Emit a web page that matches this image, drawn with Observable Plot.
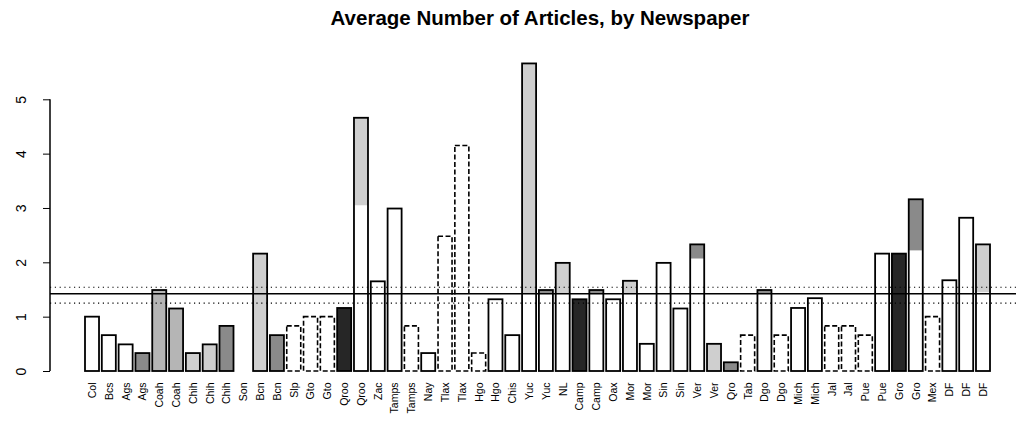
<!DOCTYPE html>
<html>
<head>
<meta charset="utf-8">
<script src="https://cdn.jsdelivr.net/npm/d3@7"></script>
<script src="https://cdn.jsdelivr.net/npm/@observablehq/plot@0.6"></script>
<style>
  body { margin: 0; background: #fff; font-family: "Liberation Sans", Arial, sans-serif; }
  #title {
    height: 34px; box-sizing: border-box; padding-top: 8px; padding-left: 64px;
    text-align: center; font-weight: bold; font-size: 20.5px; line-height: 20px; color: #000;
  }
</style>
</head>
<body>
<div id="title">Average Number of Articles, by Newspaper</div>
<div id="chart"></div>
<script>
// One bar per newspaper, labelled by its state.
const states = [
  "Col", "Bcs", "Ags", "Ags", "Coah", "Coah", "Chih", "Chih", "Chih", "Son",
  "Bcn", "Bcn", "Slp", "Gto", "Gto", "Qroo", "Qroo", "Zac", "Tamps", "Tamps",
  "Nay", "Tlax", "Tlax", "Hgo", "Hgo", "Chis", "Yuc", "Yuc", "NL", "Camp",
  "Camp", "Oax", "Mor", "Mor", "Sin", "Sin", "Ver", "Ver", "Qro", "Tab",
  "Dgo", "Dgo", "Mich", "Mich", "Jal", "Jal", "Pue", "Pue", "Gro", "Gro",
  "Mex", "DF", "DF", "DF"
];

// Average number of articles per newspaper.
const averages = [
  1.00, 0.66, 0.49, 0.33, 1.49, 1.15, 0.33, 0.49, 0.83, 0.00,
  2.16, 0.66, 0.83, 1.00, 1.00, 1.16, 4.66, 1.65, 2.99, 0.83,
  0.33, 2.48, 4.15, 0.33, 1.32, 0.66, 5.66, 1.49, 1.99, 1.32,
  1.49, 1.32, 1.66, 0.50, 1.99, 1.15, 2.33, 0.50, 0.16, 0.66,
  1.49, 0.66, 1.16, 1.34, 0.83, 0.83, 0.66, 2.16, 2.16, 3.16,
  1.00, 1.67, 2.82, 2.33
];

// Shading group of each bar ("none" = unshaded).
const shades = [
  "none", "none", "none", "mid", "medium", "medium", "light", "light", "mid", "none",
  "light", "mid", "none", "none", "none", "dark", "light", "none", "none", "none",
  "none", "none", "none", "none", "none", "none", "light", "mid", "light", "dark",
  "mid", "none", "light", "none", "none", "none", "mid", "light", "mid", "none",
  "mid", "none", "none", "none", "none", "none", "none", "none", "dark", "mid",
  "none", "none", "none", "light"
];

// Value at which the shaded part of each bar begins.
const shadeFrom = [
  0, 0, 0, 0, 0, 0, 0, 0, 0, 0,
  0, 0, 0, 0, 0, 0, 3.05, 0, 0, 0,
  0, 0, 0, 0, 0, 0, 1.43, 1.43, 1.43, 0,
  1.43, 0, 1.43, 0, 0, 0, 2.07, 0, 0, 0,
  1.43, 0, 0, 0, 0, 0, 0, 0, 0, 2.22,
  0, 0, 0, 1.45
];

const yTicks = [0, 1, 2, 3, 4, 5];
const overallMean = 1.43;
const meanBand = [1.26, 1.55];

const rows = states.map((state, i) => ({
  i, state, value: averages[i], shade: shades[i], from: shadeFrom[i]
}));

// Bars whose outline is drawn with a broken line.
const brokenOutline = new Set([12, 13, 14, 19, 21, 22, 23, 39, 41, 44, 45, 46, 50]);

// Vertical axis line from 0 to 5 at the left edge of the frame.
function yAxisLine(index, scales, values, dims) {
  const line = document.createElementNS("http://www.w3.org/2000/svg", "line");
  line.setAttribute("x1", dims.marginLeft);
  line.setAttribute("x2", dims.marginLeft);
  line.setAttribute("y1", scales.y(yTicks[0]));
  line.setAttribute("y2", scales.y(yTicks[yTicks.length - 1]));
  line.setAttribute("stroke", "black");
  line.setAttribute("stroke-width", 1.5);
  return line;
}

const chart = Plot.plot({
  width: 1016,
  height: 392,
  marginLeft: 50,
  marginRight: 0,
  marginTop: 65.3,
  marginBottom: 55,
  style: { fontFamily: "'Liberation Sans', Arial, sans-serif", background: "white", color: "black" },
  x: {
    type: "band",
    domain: d3.range(states.length),
    range: [83.6, 991.4],
    paddingInner: 1 / 6,
    paddingOuter: 1 / 12,
    axis: null
  },
  y: { domain: [0, 5], axis: null },
  color: {
    type: "ordinal",
    domain: ["light", "medium", "mid", "dark"],
    range: ["#cfcfcf", "#b5b5b5", "#8a8a8a", "#262626"]
  },
  marks: [
    Plot.barY(rows.filter(d => d.shade !== "none"), {
      x: "i", y1: "from", y2: "value", fill: "shade"
    }),
    Plot.barY(rows.filter(d => !brokenOutline.has(d.i)), {
      x: "i", y1: 0, y2: "value", fill: "none", stroke: "black", strokeWidth: 1.8
    }),
    Plot.barY(rows.filter(d => brokenOutline.has(d.i)), {
      x: "i", y1: 0, y2: "value", fill: "none", stroke: "black", strokeWidth: 1.6,
      strokeDasharray: "5,2.5"
    }),
    Plot.ruleY([overallMean], { stroke: "black", strokeWidth: 1.6 }),
    Plot.ruleY(meanBand, { stroke: "black", strokeWidth: 1.2, strokeDasharray: "1.2,3.6" }),
    Plot.axisY({
      ticks: yTicks, tickSize: 7, tickRotate: -90, tickPadding: 18, fontSize: 14,
      tickFormat: d => String(d), label: null
    }),
    Plot.axisX({
      tickSize: 0, tickRotate: -90, tickPadding: 11, fontSize: 10.5,
      tickFormat: i => states[i], label: null
    }),
    yAxisLine
  ]
});

document.getElementById("chart").appendChild(chart);
</script>
</body>
</html>
